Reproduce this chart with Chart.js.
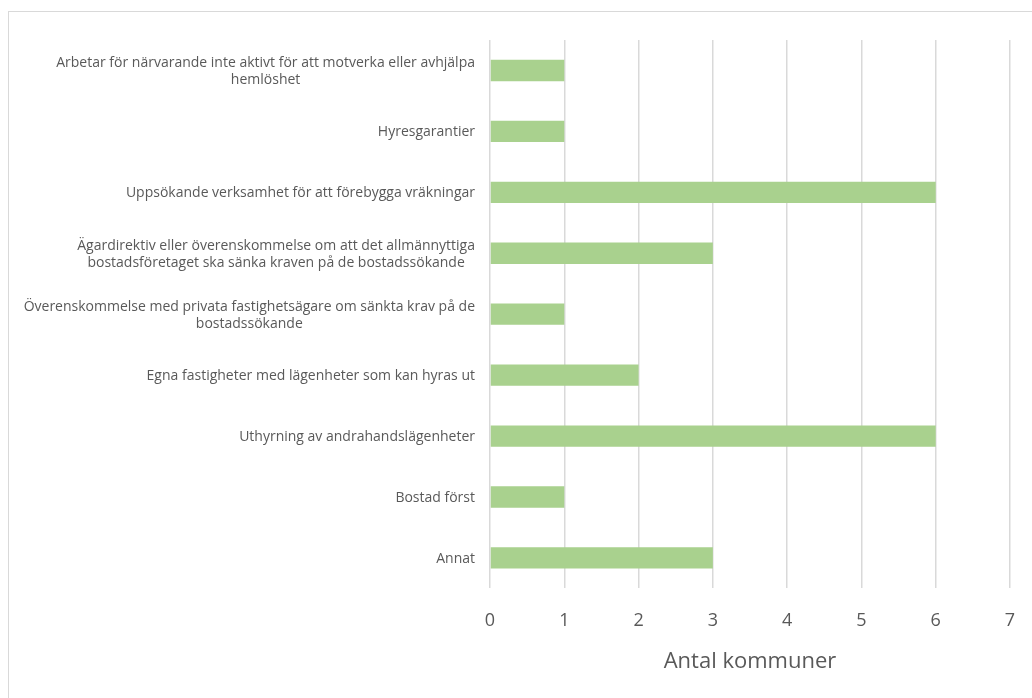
<!DOCTYPE html>
<html>
<head>
<meta charset="utf-8">
<script src="https://cdn.jsdelivr.net/npm/chart.js@4"></script>
<style>
  body { margin: 0; background: #fff; }
  #wrap { position: relative; width: 1032px; height: 698px; overflow: hidden; }
  #frame { position: absolute; left: 8px; top: 11px; width: 1100px; height: 800px; border: 1px solid #d9d9d9; }
  canvas { position: absolute; left: 0; top: 0; }
</style>
</head>
<body>
<div id="wrap">
  <div id="frame"></div>
  <canvas id="myChart" width="1032" height="698"></canvas>
</div>
<script>
    const categories = [
        ['Arbetar för närvarande inte aktivt för att motverka eller avhjälpa', 'hemlöshet'],
        ['Hyresgarantier'],
        ['Uppsökande verksamhet för att förebygga vräkningar'],
        ['Ägardirektiv eller överenskommelse om att det allmännyttiga', 'bostadsföretaget ska sänka kraven på de bostadssökande'],
        ['Överenskommelse med privata fastighetsägare om sänkta krav på de', 'bostadssökande'],
        ['Egna fastigheter med lägenheter som kan hyras ut'],
        ['Uthyrning av andrahandslägenheter'],
        ['Bostad först'],
        ['Annat']
    ];
    const counts = [1, 1, 6, 3, 1, 2, 6, 1, 3];
    const xTicks = [0, 1, 2, 3, 4, 5, 6, 7];
    const axisTitle = 'Antal kommuner';

    const fontFamily = '"Open Sans", sans-serif';
    const labelFont = '14px ' + fontFamily;

    // draws the category labels: right aligned block, lines centred inside it
    const categoryLabels = {
        id: 'categoryLabels',
        afterDraw(chart) {
            const ctx = chart.ctx;
            const yScale = chart.scales.y;
            const right = chart.chartArea.left - 15;
            ctx.save();
            ctx.font = labelFont;
            ctx.fillStyle = '#595959';
            ctx.textAlign = 'center';
            ctx.textBaseline = 'middle';
            categories.forEach((lines, i) => {
                const widest = Math.max(...lines.map(l => ctx.measureText(l).width));
                const cx = right - widest / 2;
                const cy = yScale.getPixelForTick(i) + 1;
                const lh = 17;
                lines.forEach((line, j) => {
                    ctx.fillText(line, cx, cy + (j - (lines.length - 1) / 2) * lh);
                });
            });
            ctx.restore();
        }
    };

    const ctx = document.getElementById('myChart').getContext('2d');
    new Chart(ctx, {
        type: 'bar',
        data: {
            labels: categories.map(c => c.join(' ')),
            datasets: [{
                data: counts,
                backgroundColor: '#a9d18e',
                borderWidth: 0,
                barPercentage: 0.35,
                categoryPercentage: 1
            }]
        },
        options: {
            indexAxis: 'y',
            responsive: false,
            animation: false,
            layout: { padding: { left: 482, right: 22, top: 40, bottom: 25 } },
            plugins: {
                legend: { display: false },
                tooltip: { enabled: false }
            },
            scales: {
                x: {
                    min: 0,
                    max: 7,
                    afterBuildTicks: scale => { scale.ticks = xTicks.map(v => ({ value: v })); },
                    grid: { color: '#d9d9d9', lineWidth: 1.5, drawTicks: true, tickLength: 20, tickColor: 'rgba(0,0,0,0)' },
                    border: { display: false },
                    ticks: {
                        padding: 2,
                        color: '#595959',
                        font: { family: fontFamily, size: 18 }
                    },
                    title: {
                        display: true,
                        text: axisTitle,
                        color: '#595959',
                        font: { family: fontFamily, size: 22, lineHeight: 1 },
                        padding: { top: 17, bottom: 0 }
                    }
                },
                y: {
                    grid: { display: false },
                    border: { display: false },
                    ticks: { display: false }
                }
            }
        },
        plugins: [categoryLabels]
    });
</script>
</body>
</html>
